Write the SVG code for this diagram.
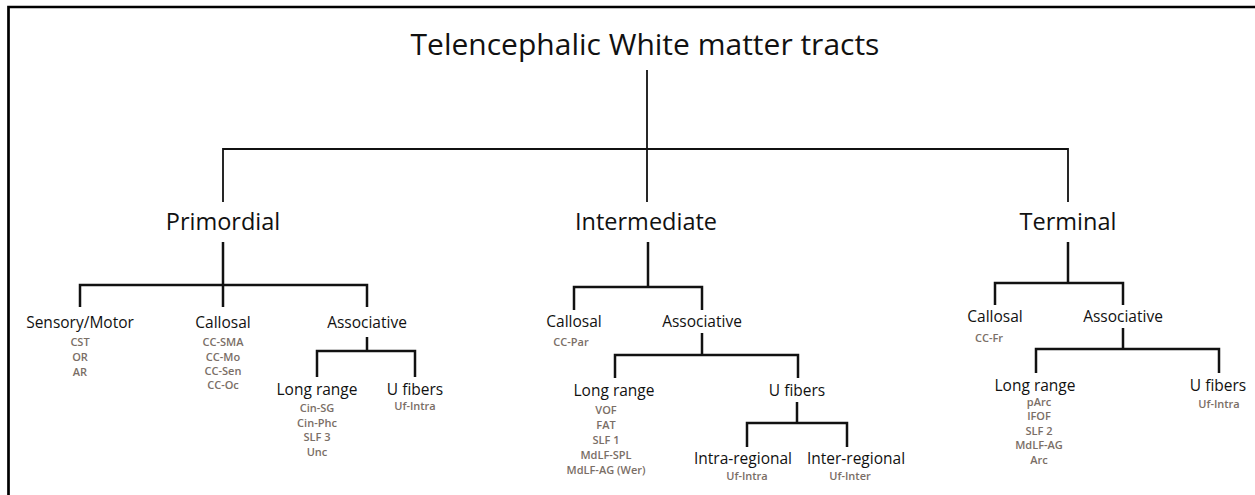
<svg xmlns="http://www.w3.org/2000/svg" width="1255" height="495" viewBox="0 0 1255 495">
<style>
text{font-family:"Open Sans","Noto Sans","Liberation Sans",sans-serif;text-anchor:middle;fill:#111}
.t0{font-size:30px}
.t1{font-size:23.5px}
.t2{font-size:15.5px}
.s{font-size:11px;font-weight:600;fill:#7a6e66}
.c{fill:none;stroke:#111;stroke-width:2.5;stroke-linecap:butt;stroke-linejoin:miter}
.ct{fill:none;stroke:#111;stroke-width:1.8}
</style>
<rect width="1255" height="495" fill="#fff"/>
<path d="M8.5,495 V7 H1255" fill="none" stroke="#000" stroke-width="2.7"/>
<g id="connectors">
<path class="ct" d="M647,70 V149"/>
<path class="ct" d="M223,202 V149 H1068 V202 M647,149 V202"/>
<path class="c" d="M223,242 V285 M80,307 V285 H367 V307 M223,285 V307"/>
<path class="c" d="M367,337 V351 M317,377 V351 H415 V377"/>
<path class="c" d="M648,242 V287 M574,310 V287 H702 V310"/>
<path class="c" d="M702,333 V355 M615,378 V355 H798 V378"/>
<path class="c" d="M797,402 V423 M747,447 V423 H847 V447"/>
<path class="c" d="M1068,242 V283 M995,305 V283 H1123 V305"/>
<path class="c" d="M1123,328 V349 M1036,373 V349 H1219 V373"/>
</g>
<g id="root"><text class="t0" x="645" y="55">Telencephalic White matter tracts</text></g>
<g id="primordial"><text class="t1" x="223" y="230">Primordial</text></g>
<g id="intermediate"><text class="t1" x="646" y="230">Intermediate</text></g>
<g id="terminal"><text class="t1" x="1068" y="230">Terminal</text></g>
<g id="p-sensory"><text class="t2" x="80" y="328">Sensory/Motor</text>
<text class="s" x="80" y="346">CST</text><text class="s" x="80" y="361">OR</text><text class="s" x="80" y="376">AR</text></g>
<g id="p-callosal"><text class="t2" x="223" y="328">Callosal</text>
<text class="s" x="223" y="346">CC-SMA</text><text class="s" x="223" y="360.5">CC-Mo</text><text class="s" x="223" y="375">CC-Sen</text><text class="s" x="223" y="389">CC-Oc</text></g>
<g id="p-associative"><text class="t2" x="367" y="328">Associative</text></g>
<g id="p-long"><text class="t2" x="317" y="395">Long range</text>
<text class="s" x="317" y="412">Cin-SG</text><text class="s" x="317" y="427">Cin-Phc</text><text class="s" x="317" y="441">SLF 3</text><text class="s" x="317" y="456">Unc</text></g>
<g id="p-ufibers"><text class="t2" x="415" y="395">U fibers</text>
<text class="s" x="415" y="410">Uf-Intra</text></g>
<g id="i-callosal"><text class="t2" x="574" y="327">Callosal</text>
<text class="s" x="571" y="346">CC-Par</text></g>
<g id="i-associative"><text class="t2" x="702" y="327">Associative</text></g>
<g id="i-long"><text class="t2" x="614" y="396">Long range</text>
<text class="s" x="606" y="414">VOF</text><text class="s" x="606" y="429">FAT</text><text class="s" x="606" y="444">SLF 1</text><text class="s" x="606" y="459">MdLF-SPL</text><text class="s" x="606" y="474">MdLF-AG (Wer)</text></g>
<g id="i-ufibers"><text class="t2" x="797" y="396">U fibers</text></g>
<g id="i-intra"><text class="t2" x="743" y="464">Intra-regional</text>
<text class="s" x="747" y="480">Uf-Intra</text></g>
<g id="i-inter"><text class="t2" x="856" y="464">Inter-regional</text>
<text class="s" x="850" y="480">Uf-Inter</text></g>
<g id="t-callosal"><text class="t2" x="995" y="322">Callosal</text>
<text class="s" x="989" y="342">CC-Fr</text></g>
<g id="t-associative"><text class="t2" x="1123" y="322">Associative</text></g>
<g id="t-long"><text class="t2" x="1035" y="391">Long range</text>
<text class="s" x="1039" y="406">pArc</text><text class="s" x="1039" y="420">IFOF</text><text class="s" x="1039" y="434.5">SLF 2</text><text class="s" x="1039" y="449">MdLF-AG</text><text class="s" x="1039" y="464">Arc</text></g>
<g id="t-ufibers"><text class="t2" x="1218" y="391">U fibers</text>
<text class="s" x="1219" y="408">Uf-Intra</text></g>
</svg>
